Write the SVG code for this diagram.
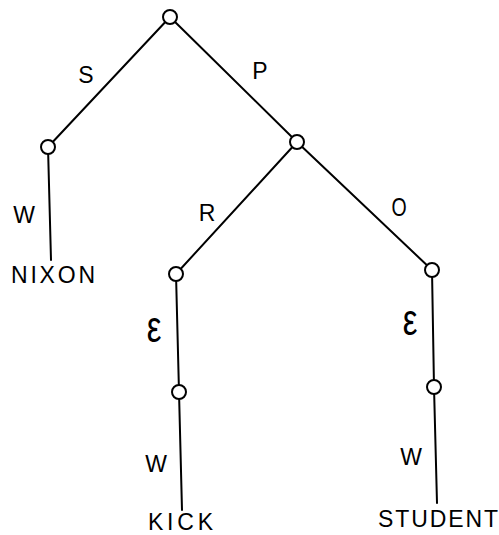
<svg xmlns="http://www.w3.org/2000/svg" width="499" height="535" viewBox="0 0 499 535">
<style>
.e{stroke:#000;stroke-width:2;fill:none;stroke-linecap:round}
.n{fill:#fff;stroke:#000;stroke-width:2}
.t{font-family:"Liberation Sans",Arial,sans-serif;font-size:23px;fill:#000;text-anchor:middle}
.g{font-family:"Liberation Sans",Arial,sans-serif;font-size:30px;fill:#000;text-anchor:middle}
.w{font-family:"Liberation Sans",Arial,sans-serif;font-size:23px;fill:#000}
</style>
<rect width="499" height="535" fill="#fff"/>
<g id="connectors">
<line class="e" x1="170" y1="17" x2="48" y2="147"/>
<line class="e" x1="170" y1="17" x2="297" y2="142"/>
<line class="e" x1="48" y1="147" x2="51" y2="260"/>
<line class="e" x1="297" y1="142" x2="176" y2="274"/>
<line class="e" x1="297" y1="142" x2="432" y2="270"/>
<line class="e" x1="176" y1="274" x2="179" y2="392"/>
<line class="e" x1="179" y1="392" x2="182" y2="510"/>
<line class="e" x1="432" y1="270" x2="434" y2="387"/>
<line class="e" x1="434" y1="387" x2="437" y2="503"/>
</g>
<g id="edge-labels">
<text class="t" x="86" y="83">S</text>
<text class="t" x="260" y="79">P</text>
<text class="t" x="24" y="223">W</text>
<text class="t" x="207" y="221">R</text>
<text class="t" x="399" y="215" transform="translate(399 207) scale(0.85 1.1) translate(-399 -207)">O</text>
<text class="g" x="154" y="342" transform="translate(154 342) scale(1.1 1.45) translate(-154 -342)">ε</text>
<text class="g" x="410" y="335" transform="translate(410 335) scale(1.1 1.45) translate(-410 -335)">ε</text>
<text class="t" x="156" y="472">W</text>
<text class="t" x="411" y="465">W</text>
</g>
<g id="node-root"><circle class="n" cx="170" cy="17" r="7"/></g>
<g id="node-s"><circle class="n" cx="48" cy="147" r="7"/></g>
<g id="node-p"><circle class="n" cx="297" cy="142" r="7"/></g>
<g id="node-r"><circle class="n" cx="176" cy="274" r="7"/></g>
<g id="node-o"><circle class="n" cx="432" cy="270" r="7"/></g>
<g id="node-r2"><circle class="n" cx="179" cy="392" r="7"/></g>
<g id="node-o2"><circle class="n" cx="434" cy="387" r="7"/></g>
<g id="node-nixon"><text class="w" x="11" y="283" textLength="84" lengthAdjust="spacing">NIXON</text></g>
<g id="node-kick"><text class="w" x="148" y="530" textLength="65" lengthAdjust="spacing">KICK</text></g>
<g id="node-student"><text class="w" x="378" y="527" textLength="120" lengthAdjust="spacing">STUDENT</text></g>
</svg>
